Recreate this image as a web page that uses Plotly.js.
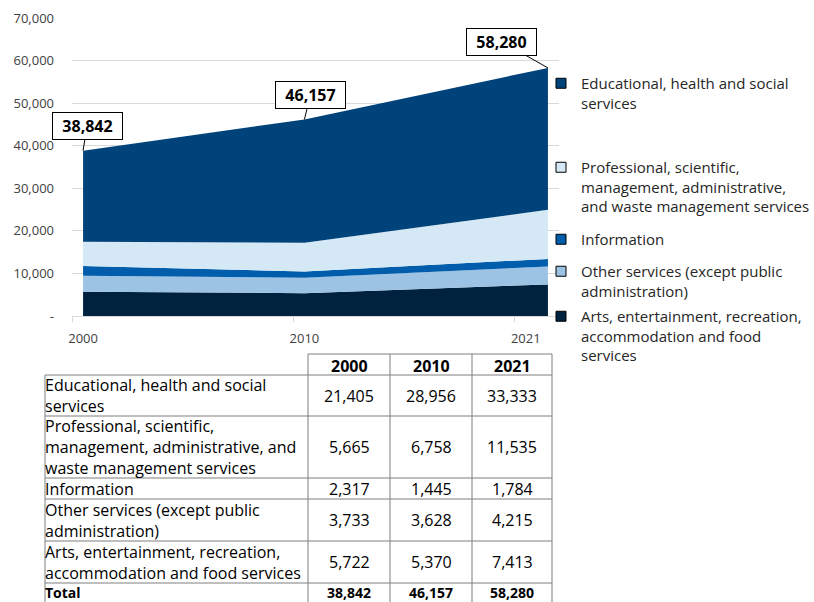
<!DOCTYPE html>
<html><head><meta charset="utf-8">
<script src="https://cdn.plot.ly/plotly-3.0.1.min.js"></script>
<style>html,body{margin:0;padding:0;background:#fff}#chart{width:814px;height:602px}</style>
</head><body><div id="chart"></div>
<script>
// ---- data ----
const years = [2000, 2010, 2021];
const yearLabels = ['2000', '2010', '2021'];
const educational = [21405, 28956, 33333];
const professional = [5665, 6758, 11535];
const information = [2317, 1445, 1784];
const otherServices = [3733, 3628, 4215];
const arts = [5722, 5370, 7413];
const xTickVals = [2000, 2010, 2020];
const xTickText = ['2000', '2010', '2021'];
const yTickVals = [0, 10000, 20000, 30000, 40000, 50000, 60000, 70000];
const yTickText = ['-', '10,000', '20,000', '30,000', '40,000', '50,000', '60,000', '70,000'];
const legendNames = [
  'Educational, health and social<br>services',
  'Professional, scientific,<br>management, administrative,<br>and waste management services',
  'Information',
  'Other services (except public<br>administration)',
  'Arts, entertainment, recreation,<br>accommodation and food<br>services'
];
const tableLabels = [
  'Educational, health and social<br>services',
  'Professional, scientific,<br>management, administrative, and<br>waste management services',
  'Information',
  'Other services (except public<br>administration)',
  'Arts, entertainment, recreation,<br>accommodation and food services',
  'Total'
];

// ---- styles ----
const FONT = '"Open Sans", "Noto Sans", sans-serif';
const seriesTopDown = [educational, professional, information, otherServices, arts];
const colorsTopDown = ['#00437a', '#d5e8f5', '#005dab', '#9cc3e4', '#00223f'];

const totals = years.map((_, i) => seriesTopDown.reduce((s, a) => s + a[i], 0));
const fmt = v => v.toLocaleString('en-US');

const L = 72, R = 255, T = 18, B = 286;
const W = 814 - L - R, H = 602 - T - B;
const px = x => (x - L) / W;
const py = y => (602 - B - y) / H;

const traces = [];
// stacked areas bottom -> top
for (let k = seriesTopDown.length - 1; k >= 0; k--) {
  traces.push({
    x: years, y: seriesTopDown[k], type: 'scatter', mode: 'lines',
    stackgroup: 'one', fillcolor: colorsTopDown[k],
    line: {width: 0, color: colorsTopDown[k]},
    showlegend: false, hoverinfo: 'skip'
  });
}
// legend entries (one legend each, positioned like the reference)
const legendMarkerY = [83, 167, 239, 271, 316];
const layoutLegends = {};
legendNames.forEach((nm, i) => {
  const key = i === 0 ? 'legend' : 'legend' + (i + 1);
  traces.push({
    x: [null], y: [null], type: 'scatter', mode: 'markers', name: nm,
    marker: {symbol: 'square', size: 10, color: colorsTopDown[i], line: {color: '#000', width: 1}},
    legend: key, showlegend: true, hoverinfo: 'skip'
  });
  layoutLegends[key] = {
    x: px(541), xanchor: 'left', y: py(legendMarkerY[i] - 16), yanchor: 'top',
    bgcolor: 'rgba(0,0,0,0)', borderwidth: 0, valign: 'top',
    font: {family: FONT, size: 15, color: '#262626'}
  };
});

// total callouts
const calloutOffsets = [[4, -25], [6, -25], [-46, -26]];
const annotations = years.map((yr, i) => ({
  x: yr, y: totals[i], xref: 'x', yref: 'y',
  text: '<b>' + fmt(totals[i]) + '</b>',
  showarrow: true, arrowhead: 0, arrowwidth: 1, arrowcolor: '#000',
  ax: calloutOffsets[i][0], ay: calloutOffsets[i][1],
  bgcolor: '#fff', bordercolor: '#000', borderwidth: 1, borderpad: 3,
  width: 63, height: 20,
  font: {family: FONT, size: 16, color: '#000'}
}));

// ---- data table ----
const colX = [45, 308, 390, 472, 552];
const headerTop = 354, headerH = 21;
const rowH = [41, 62, 21, 42, 42, 22];
const gridColor = '#7f7f7f';
const shapes = [];
const tblLine = (x0, y0, x1, y1) => shapes.push({
  type: 'line', xref: 'paper', yref: 'paper',
  x0: px(x0), y0: py(y0), x1: px(x1), y1: py(y1),
  line: {color: gridColor, width: 1}
});
const rowTops = [];
let yCur = headerTop + headerH;
rowH.forEach(h => { rowTops.push(yCur); yCur += h; });
tblLine(colX[1], headerTop, colX[4], headerTop);
rowTops.forEach(t => tblLine(colX[0], t, colX[4], t));
tblLine(colX[0], rowTops[0], colX[0], 602);
for (let j = 1; j < colX.length; j++) tblLine(colX[j], headerTop, colX[j], 602);

const tableFont = size => ({family: FONT, size: size, color: '#000'});
// header
yearLabels.forEach((lab, j) => annotations.push({
  xref: 'paper', yref: 'paper', showarrow: false,
  x: px((colX[j + 1] + colX[j + 2]) / 2), y: py(headerTop + headerH / 2 + 1),
  xanchor: 'center', yanchor: 'middle', text: '<b>' + lab + '</b>',
  font: tableFont(16)
}));
// body rows
const tableValues = seriesTopDown.concat([totals]);
tableLabels.forEach((lab, r) => {
  const isTotal = r === tableLabels.length - 1;
  const c = isTotal ? rowTops[r] + 9 : rowTops[r] + rowH[r] / 2;
  const size = isTotal ? 14 : 16;
  annotations.push({
    xref: 'paper', yref: 'paper', showarrow: false,
    x: px(colX[0] - 1), y: py(c), xanchor: 'left', yanchor: 'middle', align: 'left',
    text: isTotal ? '<b>' + lab + '</b>' : lab, borderpad: 0,
    font: tableFont(size)
  });
  tableValues[r].forEach((v, j) => annotations.push({
    xref: 'paper', yref: 'paper', showarrow: false,
    x: px((colX[j + 1] + colX[j + 2]) / 2), y: py(c),
    xanchor: 'center', yanchor: 'middle', borderpad: 0,
    text: isTotal ? '<b>' + fmt(v) + '</b>' : fmt(v),
    font: tableFont(size)
  }));
});

const layout = Object.assign({
  width: 814, height: 602,
  margin: {l: L, r: R, t: T, b: B, pad: 0, autoexpand: false},
  paper_bgcolor: '#fff', plot_bgcolor: '#fff',
  font: {family: FONT, color: '#404040'},
  xaxis: {
    range: [1999.5, 2021.5], tickmode: 'array', tickvals: xTickVals, ticktext: xTickText,
    ticks: '', showgrid: false, zeroline: false, showline: true, linecolor: '#d9d9d9', linewidth: 1,
    tickfont: {family: FONT, size: 13, color: '#404040'}, ticklabelstandoff: 10,
    minor: {tickmode: 'array', tickvals: [1999.5, 2009.5, 2019.5], ticks: 'outside', ticklen: 5,
            tickcolor: '#d9d9d9', tickwidth: 1, showgrid: false}
  },
  yaxis: {
    range: [0, 70000], tickmode: 'array', tickvals: yTickVals, ticktext: yTickText,
    ticks: '', showgrid: true, gridcolor: '#d9d9d9', gridwidth: 1, zeroline: false, showline: false,
    tickfont: {family: FONT, size: 13, color: '#404040'}, ticklabelstandoff: 17
  },
  showlegend: true,
  annotations: annotations,
  shapes: shapes
}, layoutLegends);

Plotly.newPlot('chart', traces, layout, {staticPlot: true, displayModeBar: false});
</script>
</body></html>
